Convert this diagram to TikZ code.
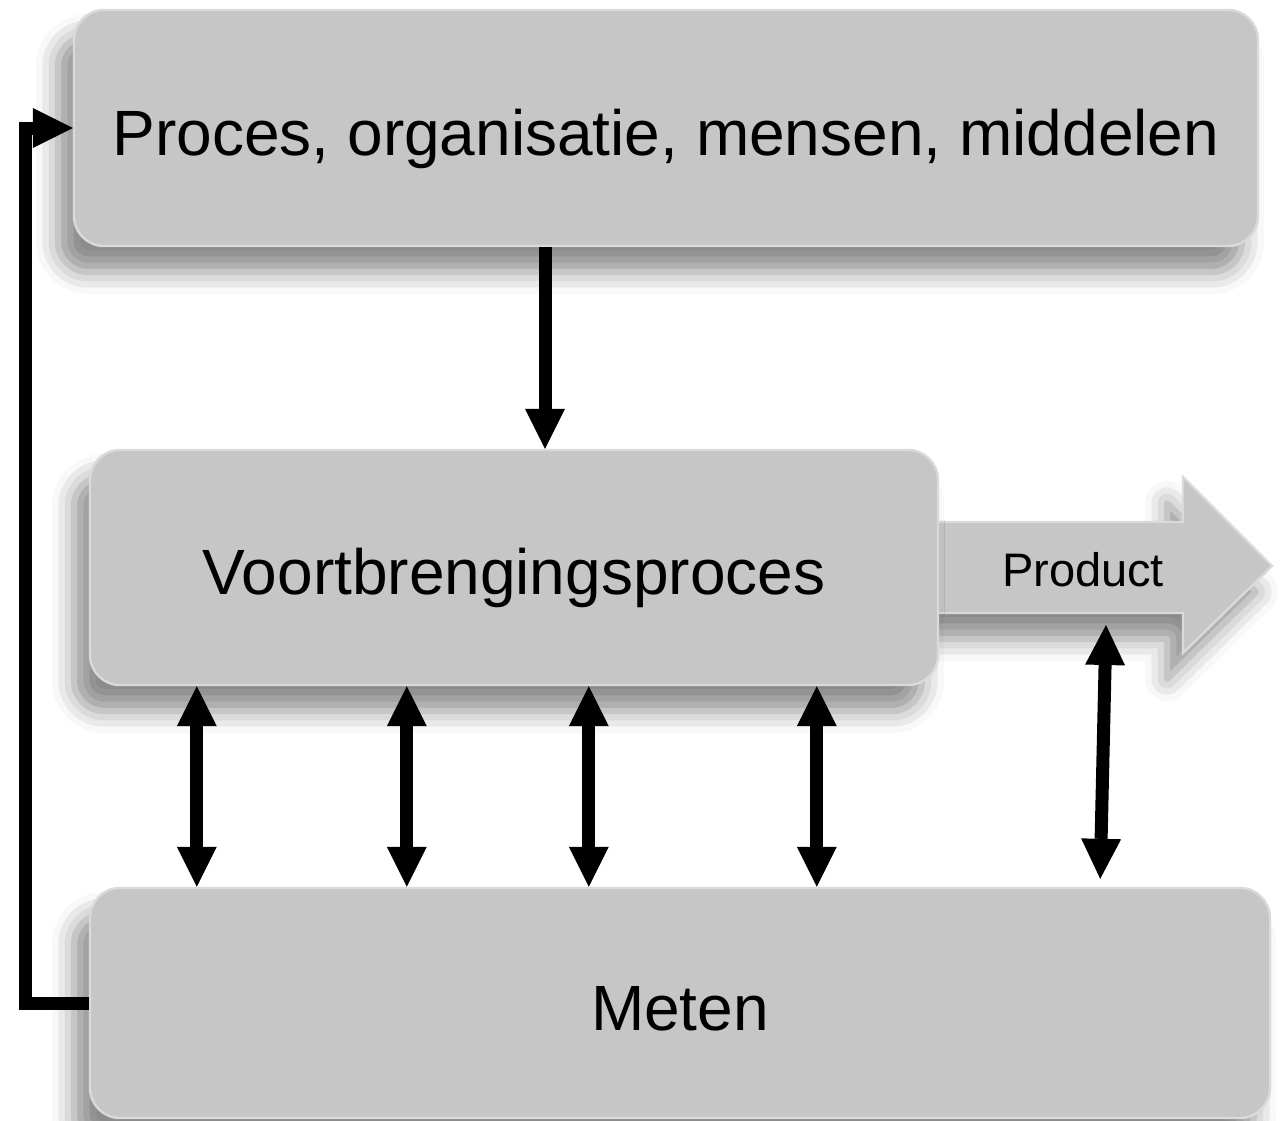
\documentclass[tikz,border=0pt]{standalone}
\usepackage{fontspec}
\setmainfont{Liberation Sans}
\usetikzlibrary{arrows.meta,shadows.blur}
\definecolor{boxgray}{HTML}{C6C6C6}
\definecolor{edgegray}{HTML}{DADADA}
\begin{document}
\begin{tikzpicture}[x=0.5pt, y=-0.5pt, >={Triangle[width=20pt,length=20pt,line width=0pt,fill=black]},
    soft/.style = {blur shadow={shadow xshift=-8pt, shadow yshift=-13pt, shadow blur radius=11pt, shadow opacity=45}},
    box/.style = {draw=edgegray, line width=1.2pt, fill=boxgray, rounded corners=15pt, soft},
    bigtext/.style = {font=\fontsize{32}{38}\selectfont, text height=30pt, text depth=3pt},
    smalltext/.style = {font=\fontsize{23.5}{28}\selectfont},
    arr/.style = {draw=black, line width=6.5pt, fill opacity=1, draw opacity=1, ->},
    dbl/.style = {draw=black, line width=6.5pt, fill opacity=1, draw opacity=1, <->}]
    \useasboundingbox (0,0) rectangle (1282,1121);
    % product arrow behind the middle box
    \filldraw[boxgray, draw=edgegray, line width=1.2pt, soft] (920,522) -- (1183,522) -- (1183,477) -- (1272,566)
        -- (1183,653) -- (1183,613) -- (920,613) -- cycle;
    \node[smalltext] (prod) at (1083,570) {Product};
    \node[box, bigtext, minimum width=592pt, minimum height=118pt] (top) at (666,128) {Proces, organisatie, mensen, middelen};
    \node[box, bigtext, minimum width=424pt, minimum height=117.5pt] (mid) at (514,567.5) {Voortbrengingsproces};
    \node[box, bigtext, minimum width=590pt, minimum height=115pt] (bot) at (680,1003) {Meten};
    \coordinate (ptip) at (1106,625);
    \draw[arr] ([xshift=-60.5pt]top.south) -- ([xshift=15.5pt]mid.north);
    \foreach \d in {54,159,250,364}
        \draw[dbl] ([xshift=\d pt]mid.south west) -- ([xshift=\d pt]bot.north west);
    \draw[dbl] (ptip) -- ([xshift=-85.5pt, yshift=4pt]bot.north east);
    % feedback loop
    \draw[arr] (bot.west) -- ++(-63,0) |- (top.west);
\end{tikzpicture}
\end{document}
